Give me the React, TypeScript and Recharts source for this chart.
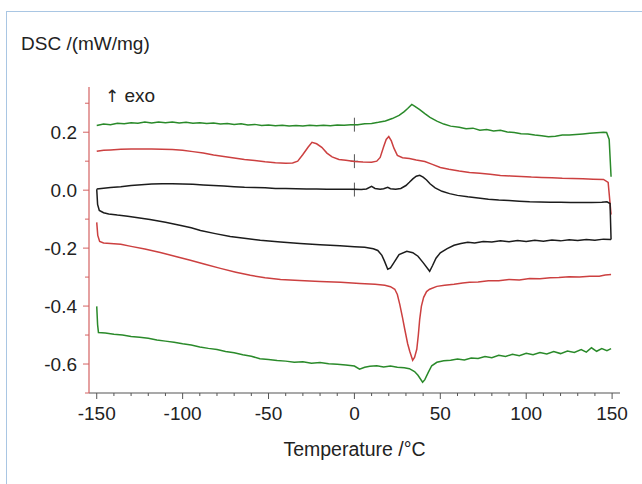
import React from 'react';
import { LineChart, Line, XAxis, YAxis, ReferenceLine } from 'recharts';

// Temperature (°C), DSC (mW/mg)
const greenHeat: number[][] = [
  [-150,0.223],[-146,0.228],[-142,0.226],[-138,0.231],[-134,0.229],[-130,0.233],[-126,0.231],[-122,0.235],[-118,0.232],[-114,0.235],[-110,0.233],[-106,0.235],[-102,0.232],[-98,0.234],[-94,0.231],[-90,0.233],[-86,0.23],[-82,0.232],[-78,0.228],[-74,0.23],[-70,0.227],[-66,0.229],[-62,0.225],[-58,0.227],[-54,0.223],[-50,0.225],[-46,0.222],[-42,0.224],[-38,0.221],[-34,0.223],[-30,0.221],[-26,0.224],[-22,0.222],[-18,0.224],[-14,0.222],[-10,0.225],[-6,0.224],[-2,0.226],[2,0.226],[6,0.229],[10,0.23],[14,0.234],[18,0.239],[22,0.247],[26,0.258],[29,0.271],[31,0.282],[33.4,0.296],[35,0.29],[38,0.278],[41,0.264],[44,0.251],[48,0.238],[52,0.228],[56,0.221],[61,0.217],[65,0.212],[69,0.214],[73,0.207],[77,0.209],[81,0.204],[85,0.207],[89,0.201],[93,0.199],[97,0.195],[101,0.194],[105,0.19],[109,0.188],[113,0.184],[117,0.186],[121,0.19],[125,0.19],[129,0.192],[133,0.194],[137,0.196],[141,0.198],[145,0.2],[146.8,0.199],[148.3,0.175],[149.4,0.046],
];
const redHeat: number[][] = [
  [-150,0.134],[-146,0.138],[-142,0.139],[-136,0.141],[-130,0.142],[-124,0.142],[-118,0.142],[-112,0.141],[-106,0.14],[-100,0.138],[-94,0.133],[-88,0.128],[-82,0.121],[-76,0.116],[-70,0.111],[-64,0.106],[-58,0.102],[-52,0.098],[-46,0.095],[-40,0.093],[-36,0.094],[-33,0.1],[-30,0.123],[-27,0.148],[-24.7,0.165],[-22,0.16],[-19,0.148],[-16,0.128],[-13,0.115],[-9,0.106],[-5,0.103],[0,0.099],[5,0.097],[10,0.096],[13,0.1],[15,0.113],[17,0.15],[18.5,0.175],[20,0.185],[21.5,0.17],[23,0.145],[25,0.12],[28,0.112],[32,0.109],[36,0.104],[41,0.099],[45,0.09],[50,0.078],[55,0.072],[61,0.066],[67,0.061],[73,0.058],[79,0.055],[85,0.051],[91,0.049],[97,0.047],[103,0.045],[109,0.044],[115,0.043],[121,0.041],[127,0.04],[133,0.039],[139,0.038],[145,0.037],[147.7,0.027],[149.4,-0.084],
];
const blackHeat: number[][] = [
  [-150,0.004],[-146,0.007],[-142,0.009],[-136,0.012],[-130,0.016],[-124,0.019],[-118,0.021],[-112,0.022],[-106,0.022],[-100,0.021],[-94,0.02],[-88,0.018],[-82,0.016],[-76,0.014],[-70,0.012],[-64,0.01],[-58,0.009],[-52,0.008],[-46,0.006],[-40,0.006],[-34,0.005],[-28,0.004],[-22,0.004],[-16,0.003],[-10,0.003],[-4,0.003],[0,0.003],[4,0.002],[7,0.004],[10,0.013],[12,0.006],[15,0.003],[17,0.005],[19.4,0.01],[21,0.005],[24,0.003],[27,0.006],[30,0.016],[32,0.027],[34,0.039],[36,0.048],[38,0.051],[40,0.045],[42,0.035],[44,0.022],[47,0.008],[51,-0.004],[55.4,-0.012],[60,-0.018],[66,-0.023],[72,-0.027],[78,-0.031],[84,-0.034],[90,-0.036],[96,-0.038],[102,-0.04],[108,-0.041],[114,-0.042],[120,-0.042],[126,-0.043],[132,-0.043],[138,-0.043],[144,-0.042],[147,-0.04],[148.8,-0.046],[149.4,-0.17],
];
const blackCool: number[][] = [
  [-150,0.003],[-149.5,-0.049],[-148.5,-0.07],[-146,-0.078],[-143,-0.082],[-138,-0.086],[-132,-0.09],[-126,-0.095],[-119,-0.101],[-110,-0.111],[-101,-0.122],[-95,-0.13],[-89.6,-0.139],[-81,-0.15],[-72.3,-0.16],[-63,-0.167],[-54.8,-0.173],[-43,-0.179],[-31.6,-0.184],[-20,-0.188],[-8.4,-0.192],[0,-0.195],[6,-0.197],[11,-0.202],[13.6,-0.208],[16,-0.225],[17.5,-0.245],[19.4,-0.273],[21,-0.268],[23,-0.25],[26,-0.222],[30.5,-0.211],[34,-0.216],[37,-0.228],[40,-0.25],[43.8,-0.28],[45.5,-0.26],[47.5,-0.235],[50,-0.216],[54,-0.202],[58,-0.19],[62,-0.184],[66,-0.18],[70,-0.182],[75,-0.177],[80,-0.179],[85,-0.175],[90,-0.178],[95,-0.174],[100,-0.177],[105,-0.173],[110,-0.176],[115,-0.172],[120,-0.175],[125,-0.171],[130,-0.174],[135,-0.17],[140,-0.173],[145,-0.169],[149.4,-0.17],
];
const redCool: number[][] = [
  [-150,-0.111],[-149.4,-0.156],[-148.3,-0.177],[-146,-0.182],[-142,-0.184],[-136,-0.187],[-130,-0.194],[-122,-0.203],[-113,-0.215],[-104,-0.229],[-95.5,-0.242],[-87,-0.256],[-78,-0.27],[-69,-0.283],[-60.6,-0.294],[-52,-0.302],[-43,-0.308],[-32,-0.312],[-20,-0.315],[-8,-0.318],[3.2,-0.322],[12,-0.325],[17.7,-0.328],[21,-0.333],[23.5,-0.342],[25,-0.36],[26.4,-0.394],[28,-0.44],[29.3,-0.48],[31,-0.53],[32.2,-0.556],[33.9,-0.587],[35,-0.577],[36.3,-0.549],[37.2,-0.5],[38,-0.446],[39,-0.4],[40.3,-0.37],[42,-0.35],[43.8,-0.342],[48,-0.332],[52.5,-0.328],[58,-0.325],[63,-0.32],[67,-0.318],[72,-0.317],[78,-0.313],[84,-0.313],[90,-0.308],[96,-0.31],[102,-0.305],[108,-0.306],[114,-0.302],[119,-0.301],[125,-0.299],[131,-0.3],[137,-0.297],[142.5,-0.297],[146,-0.293],[149.4,-0.291],
];
const greenCool: number[][] = [
  [-150,-0.401],[-149.5,-0.464],[-149,-0.491],[-145,-0.493],[-140,-0.497],[-135,-0.5],[-130,-0.505],[-125,-0.508],[-120,-0.511],[-115,-0.517],[-110,-0.521],[-105,-0.525],[-100,-0.53],[-95,-0.534],[-90,-0.541],[-85,-0.546],[-80,-0.55],[-75,-0.557],[-70,-0.561],[-65,-0.568],[-60,-0.573],[-55,-0.582],[-50,-0.584],[-45,-0.588],[-40,-0.59],[-35,-0.594],[-30,-0.592],[-25,-0.597],[-20,-0.595],[-15,-0.599],[-10,-0.601],[-5,-0.603],[0,-0.607],[3,-0.618],[6,-0.611],[9,-0.608],[13,-0.606],[17,-0.61],[21,-0.607],[25,-0.611],[29,-0.613],[32,-0.616],[35,-0.626],[37,-0.639],[39.7,-0.663],[41,-0.654],[43,-0.629],[45,-0.606],[48,-0.594],[52,-0.589],[56,-0.587],[60,-0.583],[64,-0.586],[68,-0.579],[72,-0.581],[76,-0.574],[80,-0.578],[84,-0.57],[88,-0.574],[92,-0.566],[96,-0.571],[100,-0.563],[104,-0.568],[108,-0.56],[112,-0.565],[116,-0.557],[120,-0.564],[124,-0.555],[128,-0.56],[132,-0.55],[135,-0.559],[138,-0.544],[141,-0.556],[144,-0.547],[147,-0.554],[149.4,-0.547],
];

const xTicks = [-150,-140,-130,-120,-110,-100,-90,-80,-70,-60,-50,-40,-30,-20,-10,0,10,20,30,40,50,60,70,80,90,100,110,120,130,140,150];
const xLabelled = [-150,-100,-50,0,50,100,150];
const yTicks = [-0.7,-0.6,-0.5,-0.4,-0.3,-0.2,-0.1,0,0.1,0.2,0.3];
const yLabelled = [-0.6,-0.4,-0.2,0,0.2];
const crossMarks = [0.226, 0.1, 0.002];

const toPts = (a: number[][]) => a.map(([t, v]) => ({ t, v }));

const FONT = '"Liberation Sans", Arial, sans-serif';
const TEXT = '#222';
const GREEN = '#2a8a2a';
const RED = '#cc4040';
const BLACK = '#1c1c1c';
const YAXIS = '#d46262';
const XAXIS = '#555';
const FS = 19;

const XTick = (props: any) => {
  const { x, y, payload } = props;
  const v = payload.value;
  const major = xLabelled.includes(v);
  return (
    <g>
      <line x1={x} y1={y} x2={x} y2={y + (major ? 6 : 3)} stroke={XAXIS} strokeWidth={1} />
      {major && (
        <text x={x} y={y + 26.5} textAnchor="middle" fontSize={FS} fontFamily={FONT} fill={TEXT}>
          {v}
        </text>
      )}
    </g>
  );
};

const YTick = (props: any) => {
  const { x, y, payload } = props;
  const v = payload.value;
  const major = yLabelled.some((m) => Math.abs(m - v) < 1e-9);
  return (
    <g>
      <line x1={x} y1={y} x2={x - (major ? 6 : 4)} y2={y} stroke={YAXIS} strokeWidth={1} />
      {major && (
        <text x={x - 12} y={y + 7} textAnchor="end" fontSize={FS} fontFamily={FONT} fill={TEXT}>
          {v.toFixed(1)}
        </text>
      )}
    </g>
  );
};

const series: { data: number[][]; color: string; key: string }[] = [
  { data: greenHeat, color: GREEN, key: 'gh' },
  { data: redHeat, color: RED, key: 'rh' },
  { data: blackHeat, color: BLACK, key: 'bh' },
  { data: blackCool, color: BLACK, key: 'bc' },
  { data: redCool, color: RED, key: 'rc' },
  { data: greenCool, color: GREEN, key: 'gc' },
];

export default function App() {
  return (
    <div style={{ position: 'absolute', left: 0, top: 0, width: 642, height: 484, background: '#fff', fontFamily: FONT }}>
      <div style={{ position: 'absolute', left: 6, top: 11, width: 636, height: 473, borderTop: '1.5px solid #a9c6e3', borderLeft: '1.5px solid #a9c6e3' }} />
      <LineChart width={642} height={484} margin={{ top: 87, right: 22, bottom: 61, left: 29 }}>
        <XAxis
          type="number"
          dataKey="t"
          domain={[-154.5, 154.6]}
          ticks={xTicks}
          interval={0}
          tick={<XTick />}
          tickLine={false}
          tickSize={0}
          tickMargin={0}
          height={30}
          axisLine={{ stroke: XAXIS, strokeWidth: 1.2 }}
          allowDataOverflow
        />
        <YAxis
          type="number"
          domain={[-0.7, 0.356]}
          ticks={yTicks}
          interval={0}
          tick={<YTick />}
          tickLine={false}
          tickSize={0}
          tickMargin={0}
          width={60}
          axisLine={{ stroke: YAXIS, strokeWidth: 1.2 }}
          allowDataOverflow
        />
        {crossMarks.map((c, i) => (
          <ReferenceLine key={'cv' + i} segment={[{ x: 0, y: c + 0.024 }, { x: 0, y: c - 0.024 }]} stroke="#555" strokeWidth={1} />
        ))}
        {crossMarks.map((c, i) => (
          <ReferenceLine key={'ch' + i} segment={[{ x: -2.2, y: c }, { x: 2.2, y: c }]} stroke="#555" strokeWidth={1} />
        ))}
        {series.map((s) => (
          <Line
            key={s.key}
            data={toPts(s.data)}
            dataKey="v"
            type="linear"
            stroke={s.color}
            strokeWidth={1.5}
            dot={false}
            activeDot={false}
            isAnimationActive={false}
          />
        ))}
      </LineChart>
      <div style={{ position: 'absolute', left: 21, top: 33, fontSize: 19, color: TEXT, whiteSpace: 'nowrap' }}>DSC /(mW/mg)</div>
      <div style={{ position: 'absolute', left: 105, top: 85, fontSize: 19, color: TEXT, whiteSpace: 'nowrap' }}>
        <span style={{ fontFamily: '"DejaVu Sans", sans-serif', fontSize: 17, color: '#222' }}>↑</span> exo
      </div>
      <div style={{ position: 'absolute', left: 0, width: 709, top: 438, textAlign: 'center', fontSize: 19.5, color: TEXT, whiteSpace: 'nowrap' }}>Temperature /°C</div>
    </div>
  );
}
